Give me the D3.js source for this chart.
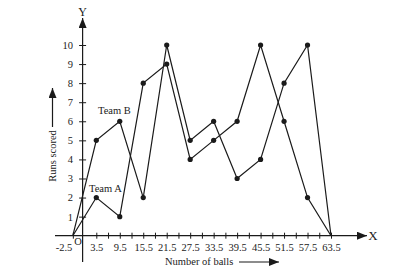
<!DOCTYPE html>
<html lang="en">
<head>
    <meta charset="UTF-8">
    <title></title>
    <style type="text/css">
        html, body { padding:0; margin:0; background:#fff; }
        svg text { font-family: "Times New Roman", "Liberation Serif", "DejaVu Serif", serif !important; fill:#222; }
    </style>
</head>
<body>
<script src="https://d3js.org/d3.v7.min.js"></script>
<script type="text/javascript">
    var balls = [-2.5, 3.5, 9.5, 15.5, 21.5, 27.5, 33.5, 39.5, 45.5, 51.5, 57.5, 63.5];
    var teamA = [0, 2, 1, 8, 9, 4, 5, 6, 10, 6, 2, 0];
    var teamB = [0, 5, 6, 2, 10, 5, 6, 3, 4, 8, 10, 0];
    var xTicks = [-2.5, 3.5, 6.5, 9.5, 12.5, 15.5, 18.5, 21.5, 24.5, 27.5, 30.5, 33.5,
                  36.5, 39.5, 42.5, 45.5, 48.5, 51.5, 54.5, 57.5, 60.5, 63.5];
    var xLabels = [-2.5, 3.5, 9.5, 15.5, 21.5, 27.5, 33.5, 39.5, 45.5, 51.5, 57.5, 63.5];
    var yTicks = [1, 2, 3, 4, 5, 6, 7, 8, 9, 10];

    var width = 417,
        height = 278,
        ink = '#1a1a1a',
        serif = '"Times New Roman", "Liberation Serif", serif',
        svg, xScale, yScale;

    svg = d3.select('body').append('svg')
            .attr('width', width)
            .attr('height', height)
            .attr('font-family', serif);

    xScale = d3.scaleLinear().domain([3.5, 63.5]).range([96.3, 331]);
    yScale = d3.scaleLinear().domain([0, 10]).range([235.7, 45]);

    var x0 = xScale(0), y0 = yScale(0);

    // arrow heads
    var defs = svg.append('defs');
    defs.append('marker')
        .attr('id', 'arr')
        .attr('viewBox', '0 0 10 8')
        .attr('refX', 10).attr('refY', 4)
        .attr('markerWidth', 10).attr('markerHeight', 8)
        .attr('markerUnits', 'userSpaceOnUse')
        .attr('orient', 'auto')
        .append('path')
        .attr('d', 'M0,0L10,4L0,8Z')
        .attr('fill', ink);

    // x axis line
    svg.append('line')
        .attr('x1', 55).attr('y1', y0)
        .attr('x2', 367).attr('y2', y0)
        .attr('stroke', ink).attr('stroke-width', 1.2)
        .attr('marker-end', 'url(#arr)');

    // y axis line
    svg.append('line')
        .attr('x1', x0).attr('y1', 262)
        .attr('x2', x0).attr('y2', 18)
        .attr('stroke', ink).attr('stroke-width', 1.2)
        .attr('marker-end', 'url(#arr)');

    var xAxis = d3.axisBottom(xScale)
        .tickValues(xTicks)
        .tickSize(3)
        .tickPadding(5)
        .tickFormat(function(d) { return xLabels.indexOf(d) >= 0 ? d : ''; });

    var gx = svg.append('g')
        .attr('transform', 'translate(0,' + y0 + ')')
        .call(xAxis)
        .attr('font-family', serif)
        .attr('font-size', 10.5);
    gx.select('.domain').remove();
    gx.selectAll('.tick line').attr('y1', -3).attr('stroke', ink);
    gx.selectAll('.tick text').attr('fill', '#222');
    // first label sits left of its tick, clear of the origin mark
    gx.selectAll('.tick text')
        .filter(function(d) { return d === -2.5; })
        .attr('text-anchor', 'end')
        .attr('dx', -1);

    var yAxis = d3.axisLeft(yScale)
        .tickValues(yTicks)
        .tickSize(3.5)
        .tickPadding(6);

    var gy = svg.append('g')
        .attr('transform', 'translate(' + x0 + ',0)')
        .call(yAxis)
        .attr('font-family', serif)
        .attr('font-size', 10.5);
    gy.select('.domain').remove();
    gy.selectAll('.tick line').attr('x1', 3.5).attr('stroke', ink);
    gy.selectAll('.tick text').attr('fill', '#222');

    // axis letters
    svg.append('text').attr('x', x0).attr('y', 16)
        .attr('text-anchor', 'middle').style('font-size', '12px').text('Y');
    svg.append('text').attr('x', 373).attr('y', y0 + 4.5)
        .attr('text-anchor', 'middle').style('font-size', '13px').text('X');
    svg.append('text').attr('x', 78).attr('y', y0 + 9)
        .attr('text-anchor', 'middle').style('font-size', '10.5px').text('O');

    // axis titles
    svg.append('text').attr('x', 165).attr('y', 265)
        .style('font-size', '10.5px').text('Number of balls');
    svg.append('line')
        .attr('x1', 239).attr('y1', 262).attr('x2', 279).attr('y2', 262)
        .attr('stroke', ink).attr('stroke-width', 1.2)
        .attr('marker-end', 'url(#arr)');

    svg.append('text')
        .attr('transform', 'translate(56,156) rotate(-90)')
        .attr('text-anchor', 'middle')
        .style('font-size', '10.5px').text('Runs scored');
    svg.append('line')
        .attr('x1', 52.5).attr('y1', 127).attr('x2', 52.5).attr('y2', 88)
        .attr('stroke', ink).attr('stroke-width', 1.2)
        .attr('marker-end', 'url(#arr)');

    // series
    var line = d3.line()
        .x(function(d) { return xScale(d[0]); })
        .y(function(d) { return yScale(d[1]); });

    [teamA, teamB].forEach(function(series) {
        var pts = balls.map(function(b, i) { return [b, series[i]]; });
        svg.append('path')
            .attr('d', line(pts))
            .attr('fill', 'none')
            .attr('stroke', ink)
            .attr('stroke-width', 1.2);
        svg.append('g').selectAll('circle')
            .data(pts.slice(1, -1))
            .enter()
            .append('circle')
            .attr('cx', function(d) { return xScale(d[0]); })
            .attr('cy', function(d) { return yScale(d[1]); })
            .attr('r', 2.6)
            .attr('fill', ink);
    });

    svg.append('text').attr('x', 98).attr('y', 114)
        .style('font-size', '10.5px').text('Team B');
    svg.append('text').attr('x', 89).attr('y', 192)
        .style('font-size', '10.5px').text('Team A');
</script>
</body>
</html>
